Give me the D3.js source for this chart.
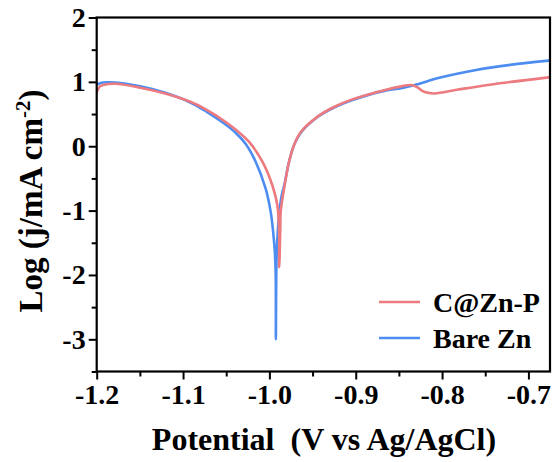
<!DOCTYPE html>
<html>
<head>
<meta charset="utf-8">
<script src="https://cdn.jsdelivr.net/npm/d3@7"></script>
<style>
  html, body { margin: 0; padding: 0; background: #fff; }
  svg { display: block; }
  text { font-family: "Liberation Serif", "Times New Roman", serif; font-weight: bold; fill: #000; }
</style>
</head>
<body>
<svg id="chart" width="554" height="462"></svg>
<script>
// Tafel polarization curves: potential (V vs Ag/AgCl) against log current density
const seriesNames = ["C@Zn-P", "Bare Zn"];
const seriesColors = ["#ec7a7e", "#4d8df2"];

const potentialCZnP = [-1.2, -1.1962, -1.1927, -1.1787, -1.1497, -1.1206, -1.0915, -1.0721, -1.0531, -1.0392,
  -1.0237, -1.0081, -0.9965, -0.9907, -0.9888, -0.9886, -0.9874, -0.9869, -0.9830, -0.9772,
  -0.9714, -0.9636, -0.9442, -0.9252, -0.9055, -0.8671, -0.8473, -0.8357, -0.8279, -0.8230,
  -0.8163, -0.8086, -0.7814, -0.7427, -0.6767];
const logJCZnP = [0.84, 0.93, 0.95, 0.97, 0.91, 0.82, 0.69, 0.56, 0.40, 0.26,
  0.07, -0.24, -0.61, -0.92, -1.31, -1.88, -1.30, -1.02, -0.66, -0.24,
  0.02, 0.22, 0.46, 0.61, 0.72, 0.87, 0.93, 0.95, 0.91, 0.86,
  0.83, 0.82, 0.88, 0.96, 1.07];

const potentialBare = [-1.2, -1.1962, -1.1927, -1.1787, -1.1497, -1.1206, -1.0915, -1.0721, -1.0531, -1.0392,
  -1.0276, -1.0159, -1.0043, -0.9985, -0.9958, -0.9938, -0.9927, -0.9925, -0.9915, -0.9888,
  -0.9857, -0.9830, -0.9772, -0.9714, -0.9636, -0.9442, -0.9252, -0.9055, -0.8671, -0.8473,
  -0.8319, -0.8008, -0.7621, -0.7233, -0.6767];
const logJBare = [0.96, 0.98, 0.99, 0.99, 0.93, 0.83, 0.68, 0.53, 0.36, 0.21,
  0.04, -0.24, -0.66, -1.02, -1.31, -1.62, -2.0, -3.0, -1.66, -1.07,
  -0.76, -0.62, -0.24, 0.02, 0.21, 0.455, 0.60, 0.71, 0.86, 0.90,
  0.95, 1.07, 1.18, 1.26, 1.33];

const xTicks = [-1.2, -1.1, -1.0, -0.9, -0.8, -0.7];
const xTickLabels = ["-1.2", "-1.1", "-1.0", "-0.9", "-0.8", "-0.7"];
const yTicks = [-3, -2, -1, 0, 1, 2];
const yTickLabels = ["-3", "-2", "-1", "0", "1", "2"];

const margin = { left: 96.7, right: 4, top: 17.5, bottom: 90.5 };
const W = 554, H = 462;

const x = d3.scaleLinear().domain([-1.2, -0.675]).range([margin.left, W - margin.right]);
const y = d3.scaleLinear().domain([-3.5, 2]).range([H - margin.bottom, margin.top]);

const svg = d3.select("#chart");

const series = [
  { name: seriesNames[0], color: seriesColors[0], v: potentialCZnP, l: logJCZnP },
  { name: seriesNames[1], color: seriesColors[1], v: potentialBare, l: logJBare }
];

const line = d3.line()
  .x(d => x(d[0]))
  .y(d => y(d[1]))
  .curve(d3.curveCatmullRom.alpha(0.5));

svg.append("clipPath").attr("id", "plotclip")
  .append("rect")
  .attr("x", x.range()[0]).attr("y", y.range()[1])
  .attr("width", x.range()[1] - x.range()[0])
  .attr("height", y.range()[0] - y.range()[1]);

const plot = svg.append("g").attr("clip-path", "url(#plotclip)");

// draw the bare Zn curve first so C@Zn-P sits on top
[series[1], series[0]].forEach(s => {
  plot.append("path")
    .datum(s.v.map((v, i) => [v, s.l[i]]))
    .attr("fill", "none")
    .attr("stroke", s.color)
    .attr("stroke-width", 2.6)
    .attr("stroke-linejoin", "round")
    .attr("stroke-linecap", "round")
    .attr("d", line);
});

// axes
const xAxis = d3.axisBottom(x)
  .tickValues(xTicks)
  .tickFormat((d, i) => xTickLabels[i])
  .tickSize(8).tickPadding(5);
const xMinor = d3.axisBottom(x)
  .tickValues(d3.range(-1.15, -0.675, 0.1))
  .tickFormat("").tickSize(5);
const yAxis = d3.axisLeft(y)
  .tickValues(yTicks)
  .tickFormat((d, i) => yTickLabels[i])
  .tickSize(8).tickPadding(3);
const yMinor = d3.axisLeft(y)
  .tickValues([-3.5, -2.5, -1.5, -0.5, 0.5, 1.5])
  .tickFormat("").tickSize(5);

function styleAxis(g) {
  g.select(".domain").remove();
  g.selectAll(".tick line").attr("stroke", "#000").attr("stroke-width", 2);
  g.selectAll(".tick text").style("font-size", "28px").style("font-family", "Liberation Serif").style("font-weight", "bold");
}

svg.append("g").attr("transform", `translate(0,${y.range()[0]})`).call(xAxis).call(styleAxis);
svg.append("g").attr("transform", `translate(0,${y.range()[0]})`).call(xMinor).call(styleAxis);
svg.append("g").attr("transform", `translate(${x.range()[0]},0)`).call(yAxis).call(styleAxis);
svg.append("g").attr("transform", `translate(${x.range()[0]},0)`).call(yMinor).call(styleAxis);

// frame
svg.append("rect")
  .attr("x", x.range()[0]).attr("y", y.range()[1])
  .attr("width", x.range()[1] - x.range()[0])
  .attr("height", y.range()[0] - y.range()[1])
  .attr("fill", "none").attr("stroke", "#000").attr("stroke-width", 2.2);

// axis titles
svg.append("text")
  .attr("x", 324)
  .attr("y", 450)
  .attr("text-anchor", "middle")
  .attr("xml:space", "preserve")
  .style("font-size", "32px")
  .text("Potential  (V vs Ag/AgCl)");

const yt = svg.append("text")
  .attr("transform", "translate(42,201) rotate(-90)")
  .attr("text-anchor", "middle")
  .style("font-size", "33px");
yt.append("tspan").text("Log (j/mA cm");
yt.append("tspan").attr("dy", -12).style("font-size", "21px").text("-2");
yt.append("tspan").attr("dy", 12).text(")");

// legend
const legendY = [302, 338];
series.forEach((s, i) => {
  const g = svg.append("g");
  g.append("line")
    .attr("x1", 379).attr("x2", 420)
    .attr("y1", legendY[i]).attr("y2", legendY[i])
    .attr("stroke", s.color).attr("stroke-width", 2.6);
  g.append("text")
    .attr("x", 433).attr("y", legendY[i] + 10)
    .style("font-size", "28px")
    .text(s.name);
});
</script>
</body>
</html>
